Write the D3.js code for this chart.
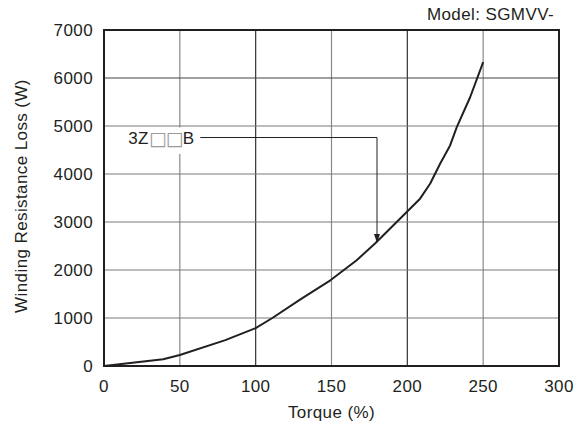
<!DOCTYPE html>
<html>
<head>
<meta charset="utf-8">
<script src="https://cdn.jsdelivr.net/npm/d3@7"></script>
<style>
  body { margin: 0; background: #fff; }
  text { font-family: "Liberation Sans", Arial, sans-serif; fill: #231f20; letter-spacing: 0.4px; }
</style>
</head>
<body>
<div id="chart"></div>
<script>
// Curve
const torque = [0, 39, 50, 80, 100, 111, 130, 149.5, 166.6, 178.7, 199.6, 208.4, 215, 221.6, 228.2, 232.6, 241.4, 250];
const loss =   [0, 140, 230, 540, 790, 1000, 1400, 1790, 2204, 2551, 3208, 3486, 3798, 4214, 4595, 4975, 5599, 6330];

const xTicks = [0, 50, 100, 150, 200, 250, 300];
const yTicks = [0, 1000, 2000, 3000, 4000, 5000, 6000, 7000];

// Annotation: label, and where the arrow points
const seriesLabel = "3Z□□B";
const arrowAt = { t: 180, w: 2560 };
const arrowFrom = 4760; // height (W) of the leader line

const width = 587, height = 434;
const margin = { top: 30, right: 28, bottom: 68, left: 104 };
const innerW = width - margin.left - margin.right;
const innerH = height - margin.top - margin.bottom;

const svg = d3.select("#chart").append("svg")
    .attr("width", width)
    .attr("height", height);

const g = svg.append("g")
    .attr("transform", `translate(${margin.left}, ${margin.top})`);

const x = d3.scaleLinear().domain([0, 300]).range([0, innerW]);
const y = d3.scaleLinear().domain([0, 7000]).range([innerH, 0]);

// grid
g.selectAll(".vgrid")
    .data(xTicks.slice(1, -1))
    .enter().append("line")
    .attr("x1", d => x(d)).attr("x2", d => x(d))
    .attr("y1", 0).attr("y2", innerH)
    .attr("stroke", d => d % 100 === 0 ? "#333" : "#8a8a8a")
    .attr("stroke-width", 1.2);

g.selectAll(".hgrid")
    .data(yTicks.slice(1, -1))
    .enter().append("line")
    .attr("x1", 0).attr("x2", innerW)
    .attr("y1", d => y(d)).attr("y2", d => y(d))
    .attr("stroke", d => d === 6000 ? "#444" : "#7a7a7a")
    .attr("stroke-width", 1.2);

// white box behind the series label
const labelY = y(arrowFrom);
g.append("rect")
    .attr("x", x(14)).attr("y", y(5000) + 1.5)
    .attr("width", x(64) - x(14)).attr("height", y(4420) - y(5000) - 1.5)
    .attr("fill", "#fff");

// curve
const pts = torque.map((t, i) => [t, loss[i]]);
g.append("path")
    .datum(pts)
    .attr("fill", "none")
    .attr("stroke", "#231f20")
    .attr("stroke-width", 2)
    .attr("stroke-linejoin", "round")
    .attr("d", d3.line().x(d => x(d[0])).y(d => y(d[1])));

// frame
g.append("rect")
    .attr("x", 0).attr("y", 0)
    .attr("width", innerW).attr("height", innerH)
    .attr("fill", "none")
    .attr("stroke", "#231f20")
    .attr("stroke-width", 2);

// axis tick labels
g.selectAll(".xlab")
    .data(xTicks)
    .enter().append("text")
    .attr("x", d => x(d))
    .attr("y", innerH + 26)
    .attr("text-anchor", "middle")
    .attr("font-size", 17)
    .text(d => d);

g.selectAll(".ylab")
    .data(yTicks)
    .enter().append("text")
    .attr("x", -11)
    .attr("y", d => y(d) + 6)
    .attr("text-anchor", "end")
    .attr("font-size", 17)
    .text(d => d);

// axis titles
g.append("text")
    .attr("x", innerW / 2)
    .attr("y", innerH + 52)
    .attr("text-anchor", "middle")
    .attr("font-size", 17)
    .text("Torque (%)");

g.append("text")
    .attr("transform", "rotate(-90)")
    .attr("x", -innerH / 2 + 2)
    .attr("y", -margin.left + 27)
    .attr("text-anchor", "middle")
    .attr("font-size", 17)
    .text("Winding Resistance Loss (W)");

// model title
svg.append("text")
    .attr("x", 554)
    .attr("y", 20)
    .attr("text-anchor", "end")
    .attr("font-size", 17)
    .text("Model: SGMVV-");

// series label and leader arrow
const lab = g.append("text")
    .attr("x", x(16))
    .attr("y", labelY + 6)
    .attr("font-size", 17);
lab.append("tspan").text(seriesLabel.slice(0, 2));
lab.append("tspan").attr("fill", "#9a9a9a").attr("font-family", "DejaVu Sans")
    .attr("font-size", 19).attr("letter-spacing", "-1px").attr("dy", 1).text(seriesLabel.slice(2, 4));
lab.append("tspan").attr("dy", -1).text(seriesLabel.slice(4));

const ax = x(arrowAt.t);
const tipY = y(arrowAt.w);
g.append("path")
    .attr("d", `M${x(63.5)},${labelY}H${ax}V${tipY - 2}`)
    .attr("fill", "none")
    .attr("stroke", "#231f20")
    .attr("stroke-width", 1);

g.append("path")
    .attr("d", `M${ax - 3},${tipY - 9}L${ax},${tipY}L${ax + 3},${tipY - 9}Z`)
    .attr("fill", "#231f20");
</script>
</body>
</html>
